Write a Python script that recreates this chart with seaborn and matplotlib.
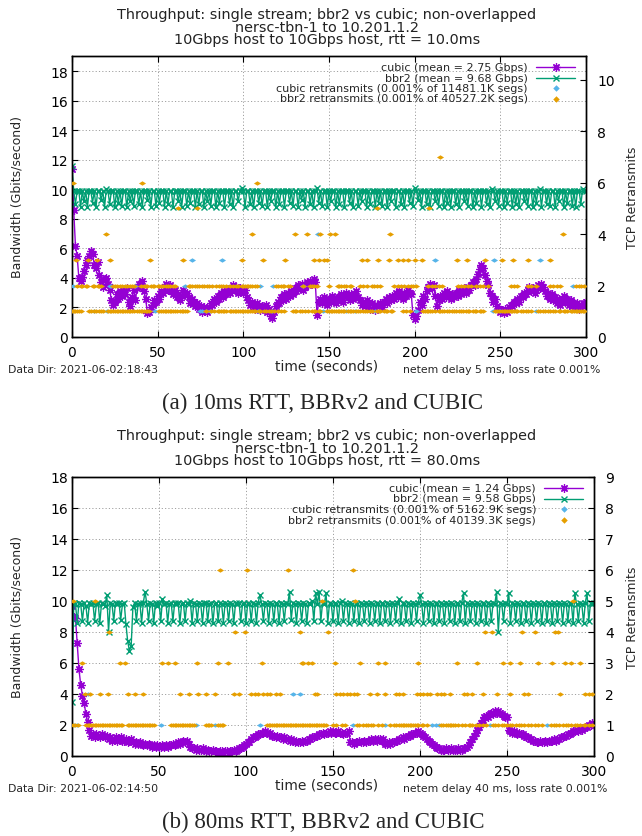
import numpy as np
import pandas as pd
import matplotlib
matplotlib.use("Agg")
import matplotlib.pyplot as plt
from matplotlib.lines import Line2D
import seaborn as sns

sns.set_theme(style="white")
plt.rcParams["font.family"] = ["DejaVu Sans"]

# ---------------- data: panel (a) 10 ms RTT ----------------
a_cubic = [
    11.4, 8.6, 6.2, 5.5, 4.0, 3.8, 4.1, 4.5, 4.9, 5.2,
    5.5, 5.8, 5.6, 4.9, 4.7, 5.1, 4.2, 3.7, 3.4, 3.9,
    4.0, 3.6, 3.2, 2.5, 2.2, 2.4, 2.9, 2.6, 3.1, 2.8,
    3.2, 2.9, 3.3, 2.4, 2.1, 2.7, 3.2, 2.5, 3.3, 3.6,
    3.4, 3.8, 3.1, 2.6, 1.6, 1.7, 2.0, 2.2, 2.5, 2.4,
    2.8, 2.6, 3.1, 3.0, 3.4, 3.6, 3.2, 3.5, 3.1, 2.9,
    3.2, 2.7, 2.9, 2.5, 2.8, 3.2, 2.9, 3.0, 2.7, 2.3,
    2.6, 2.4, 2.1, 2.3, 1.9, 2.1, 1.7, 2.0, 1.8, 1.7,
    2.0, 2.3, 2.2, 2.6, 2.4, 2.8, 2.6, 3.0, 2.7, 3.1,
    2.9, 3.2, 3.0, 3.3, 3.5, 3.2, 3.4, 3.0, 3.3, 3.1,
    3.0, 3.2, 2.7, 2.5, 2.2, 2.4, 2.1, 1.9, 2.3, 2.0,
    1.8, 2.1, 1.9, 2.2, 1.7, 1.9, 1.4, 1.3, 1.7, 2.1,
    2.4, 2.3, 2.7, 2.5, 2.9, 2.6, 3.0, 2.8, 3.1, 2.9,
    3.3, 3.1, 3.5, 3.3, 3.6, 3.2, 3.4, 3.7, 3.5, 3.8,
    3.6, 3.9, 3.7, 1.5, 2.4, 2.6, 2.3, 2.7, 2.5, 2.2,
    2.6, 2.4, 2.8, 2.5, 2.3, 2.7, 2.6, 2.9, 2.4, 2.8,
    3.0, 2.7, 2.5, 2.9, 2.6, 2.8, 3.1, 2.7, 2.5, 2.2,
    2.4, 2.1, 2.5, 2.2, 1.9, 2.3, 2.0, 1.8, 2.2, 2.1,
    2.3, 2.0, 2.4, 2.6, 2.3, 2.7, 2.5, 2.8, 2.6, 3.0,
    2.7, 3.1, 2.8, 2.6, 3.0, 2.8, 3.2, 3.0, 2.9, 1.5,
    1.2, 1.4, 1.8, 2.4, 2.2, 2.8, 2.6, 3.1, 3.4, 3.6,
    3.3, 3.5, 2.8, 2.1, 2.5, 2.8, 2.6, 3.0, 2.7, 3.1,
    2.8, 2.6, 2.9, 2.7, 3.0, 2.8, 3.2, 2.9, 3.1, 3.3,
    3.0, 3.4, 3.2, 3.5, 3.7, 3.5, 3.9, 4.3, 4.6, 4.9,
    4.7, 4.2, 3.8, 3.5, 3.0, 2.8, 2.4, 2.6, 2.1, 1.9,
    1.7, 1.8, 1.6, 1.9, 1.7, 2.0, 2.2, 2.1, 2.4, 2.3,
    2.6, 2.4, 2.8, 2.7, 3.0, 2.9, 3.2, 3.4, 3.1, 3.3,
    3.0, 3.2, 3.5, 3.3, 3.6, 3.4, 3.1, 2.8, 3.0, 2.6,
    2.9, 2.5, 2.7, 2.3, 2.6, 2.2, 2.5, 2.8, 2.4, 2.6,
    2.2, 2.5, 2.1, 2.3, 2.0, 2.3, 1.9, 2.2, 2.1, 2.3,
    2.4,
]
a_bbr2 = [
    11.6, 9.9, 9.0, 9.9, 9.9, 8.8, 9.9, 9.2, 9.9, 8.8,
    9.9, 9.9, 9.1, 9.9, 8.8, 9.9, 9.9, 9.3, 9.9, 8.8,
    10.0, 9.9, 9.0, 9.9, 9.9, 8.8, 9.9, 9.1, 9.9, 8.9,
    9.9, 9.9, 8.8, 9.9, 9.2, 9.9, 8.9, 9.9, 9.9, 9.0,
    9.9, 8.8, 9.9, 9.9, 9.3, 9.9, 8.8, 9.9, 9.9, 8.9,
    9.9, 9.1, 9.9, 9.9, 8.8, 9.9, 9.0, 9.9, 9.9, 8.8,
    9.9, 9.9, 9.2, 9.9, 8.8, 9.9, 9.9, 8.9, 9.9, 9.1,
    9.9, 9.9, 8.8, 9.9, 9.0, 9.9, 9.9, 8.8, 9.9, 9.2,
    9.9, 8.9, 9.9, 9.9, 8.8, 9.9, 9.1, 9.9, 9.9, 8.8,
    9.9, 9.9, 9.0, 9.9, 8.8, 9.9, 9.9, 9.2, 9.9, 10.1,
    9.9, 8.8, 9.9, 9.9, 9.0, 9.9, 8.8, 9.9, 9.9, 9.1,
    9.9, 8.9, 9.9, 9.9, 8.8, 9.9, 9.2, 9.9, 9.9, 8.8,
    9.9, 9.0, 9.9, 9.9, 8.8, 9.9, 9.9, 9.1, 9.9, 8.9,
    9.9, 9.9, 8.8, 9.9, 9.3, 9.9, 8.8, 9.9, 9.9, 9.0,
    9.9, 8.8, 9.9, 10.1, 9.1, 9.9, 8.9, 9.9, 9.9, 8.8,
    9.9, 9.2, 9.9, 9.9, 8.8, 9.9, 9.0, 9.9, 9.9, 8.8,
    9.9, 9.9, 9.1, 9.9, 8.8, 9.9, 9.9, 8.9, 9.9, 9.2,
    9.9, 9.9, 8.8, 9.9, 9.0, 9.9, 9.9, 8.8, 9.9, 9.1,
    9.9, 8.9, 9.9, 9.9, 8.8, 9.9, 9.2, 9.9, 9.9, 8.8,
    9.9, 9.9, 9.0, 9.9, 8.8, 9.9, 9.9, 9.1, 9.9, 8.9,
    10.1, 9.9, 9.3, 9.9, 8.8, 9.9, 9.9, 9.0, 9.9, 8.8,
    9.9, 9.9, 9.2, 9.9, 8.9, 9.9, 9.9, 8.8, 9.9, 9.1,
    9.9, 8.8, 9.9, 9.9, 9.0, 9.9, 8.8, 9.9, 9.9, 9.2,
    9.9, 8.9, 9.9, 9.9, 8.8, 9.9, 9.1, 9.9, 9.9, 8.8,
    9.9, 9.9, 9.0, 9.9, 8.8, 10.0, 9.9, 9.2, 9.9, 8.9,
    9.9, 9.9, 8.8, 9.9, 9.1, 9.9, 9.9, 8.8, 9.9, 9.0,
    9.9, 8.8, 9.9, 9.9, 9.2, 9.9, 8.9, 9.9, 9.9, 8.8,
    9.9, 9.1, 9.9, 10.0, 8.8, 9.9, 9.9, 9.0, 9.9, 8.9,
    9.9, 9.9, 8.8, 9.9, 9.2, 9.9, 9.9, 8.8, 9.9, 9.1,
    9.9, 9.9, 8.9, 9.9, 8.8, 9.9, 9.9, 9.0, 10.0, 9.9,
    9.9,
]
# retransmit times (s) grouped by count
a_bbr2_r1 = [0, 1, 2, 3, 4, 5, 10, 11, 13, 14, 16, 17, 18, 21, 22, 23, 24, 25, 26, 27, 28, 29,
             30, 31, 32, 33, 34, 35, 36, 38, 39, 40, 41, 42, 43, 44, 45, 51, 52, 53, 54, 55, 56,
             57, 58, 59, 60, 61, 63, 64, 65, 66, 67, 78, 81, 83, 85, 86, 87, 88, 89, 90, 92, 93,
             94, 95, 96, 97, 98, 99, 100, 101, 102, 103, 104, 105, 106, 107, 109, 110, 112, 113,
             115, 116, 118, 120, 122, 124, 129, 130, 131, 133, 134, 136, 138, 140, 141, 142, 144,
             145, 149, 150, 151, 152, 153, 154, 155, 156, 157, 158, 159, 161, 162, 163, 164, 166,
             167, 168, 170, 171, 172, 174, 175, 178, 179, 180, 182, 183, 184, 186, 187, 193, 195,
             197, 205, 206, 207, 208, 209, 210, 212, 214, 215, 216, 217, 219, 220, 222, 223, 224,
             226, 227, 228, 230, 231, 232, 234, 235, 236, 238, 239, 240, 247, 248, 249, 251, 252,
             253, 254, 255, 256, 257, 258, 259, 260, 262, 263, 265, 266, 268, 272, 273, 275, 276,
             278, 279, 281, 282, 284, 285, 287, 288, 289, 291, 292, 293, 294, 295, 296, 297, 298, 299]
a_bbr2_r2 = [3, 5, 6, 8, 9, 12, 13, 15, 16, 17, 24, 25, 26, 28, 29, 31, 32, 34, 35, 36, 40, 42,
             43, 44, 46, 47, 48, 50, 51, 52, 53, 55, 56, 57, 59, 60, 68, 69, 70, 72, 73, 74, 76,
             77, 79, 80, 82, 84, 86, 87, 88, 90, 92, 94, 96, 97, 99, 100, 101, 102, 103, 104, 105,
             107, 108, 119, 120, 122, 123, 124, 126, 127, 135, 139, 140, 141, 143, 150, 155, 156,
             157, 159, 160, 162, 163, 168, 170, 172, 175, 176, 178, 180, 188, 190, 192, 194, 196,
             198, 199, 201, 208, 210, 212, 214, 216, 225, 227, 229, 231, 233, 236, 238, 240, 243,
             256, 258, 260, 266, 268, 271, 279, 281, 283, 285, 294, 296, 297, 299]
a_bbr2_r3 = [2.6, 9.5, 14.3, 22.2, 45.5, 65, 99, 111.7, 124.3, 141, 144, 147, 149, 169, 172,
             178.6, 185, 190, 193, 196, 200, 204, 224.5, 230.4, 241, 251, 257.6, 266.4, 279]
a_bbr2_r4 = [20, 105, 130, 137, 145, 150.6, 153.5, 185.6, 286.8]
a_bbr2_r5 = [62, 72.8, 178, 208.6]
a_bbr2_r6 = [0.8, 40.7, 107.8]
a_bbr2_r7 = [214.8]
a_cubic_r1 = [12.6, 20.5, 48.5, 74.7, 76, 78, 80.6, 108.6, 117, 146.6, 160, 165, 177, 201,
              246, 250, 271]
a_cubic_r2 = [0.8, 22, 23, 37, 66, 110, 117.5, 135, 292.5]
a_cubic_r3 = [70, 87.4, 212, 246.5, 273]
a_cubic_r4 = [143.6]

# ---------------- data: panel (b) 80 ms RTT ----------------
b_cubic = [
    9.7, 9.0, 8.9, 7.3, 5.6, 4.6, 3.9, 3.4, 2.7, 2.2,
    1.7, 1.3, 1.4, 1.2, 1.4, 1.3, 1.2, 1.4, 1.3, 1.2,
    1.3, 1.1, 1.2, 1.0, 1.1, 1.2, 1.0, 1.1, 1.2, 1.0,
    1.0, 1.1, 0.9, 1.0, 1.1, 0.9, 0.8, 0.9, 0.8, 0.9,
    0.8, 0.7, 0.8, 0.7, 0.8, 0.7, 0.6, 0.7, 0.6, 0.7,
    0.6, 0.6, 0.7, 0.6, 0.7, 0.6, 0.7, 0.7, 0.8, 0.7,
    0.8, 0.9, 0.8, 0.9, 1.0, 0.9, 1.0, 0.8, 0.6, 0.5,
    0.5, 0.4, 0.5, 0.4, 0.4, 0.5, 0.4, 0.3, 0.4, 0.3,
    0.3, 0.4, 0.3, 0.3, 0.2, 0.3, 0.3, 0.2, 0.3, 0.3,
    0.2, 0.3, 0.3, 0.4, 0.3, 0.4, 0.5, 0.5, 0.6, 0.7,
    0.8, 0.9, 0.9, 1.1, 1.2, 1.2, 1.3, 1.4, 1.4, 1.5,
    1.5, 1.6, 1.5, 1.4, 1.5, 1.3, 1.3, 1.2, 1.3, 1.2,
    1.2, 1.1, 1.2, 1.1, 1.1, 1.0, 1.1, 1.0, 0.9, 1.0,
    0.9, 0.9, 1.0, 0.9, 1.0, 1.0, 1.1, 1.1, 1.2, 1.2,
    1.3, 1.3, 1.4, 1.4, 1.5, 1.4, 1.5, 1.5, 1.6, 1.5,
    1.6, 1.5, 1.5, 1.6, 1.5, 1.5, 1.4, 1.5, 1.5, 1.6,
    0.9, 0.9, 0.8, 0.9, 0.9, 1.0, 0.9, 0.9, 1.0, 0.9,
    1.0, 1.0, 1.1, 1.0, 1.1, 1.0, 1.1, 1.1, 1.0, 1.1,
    0.8, 0.8, 0.9, 0.8, 0.9, 0.9, 1.0, 1.0, 1.1, 1.1,
    1.2, 1.1, 1.2, 1.3, 1.3, 1.4, 1.4, 1.5, 1.5, 1.6,
    1.5, 1.4, 1.3, 1.2, 1.1, 1.0, 0.9, 0.8, 0.7, 0.6,
    0.5, 0.5, 0.4, 0.4, 0.4, 0.5, 0.4, 0.4, 0.5, 0.4,
    0.4, 0.4, 0.5, 0.4, 0.4, 0.5, 0.5, 0.6, 0.7, 0.9,
    1.1, 1.3, 1.5, 1.7, 1.9, 2.1, 2.3, 2.5, 2.6, 2.5,
    2.7, 2.8, 2.7, 2.9, 2.8, 2.9, 2.8, 2.7, 2.6, 2.5,
    2.5, 1.7, 1.6, 1.5, 1.6, 1.5, 1.4, 1.5, 1.4, 1.4,
    1.3, 1.2, 1.2, 1.1, 1.1, 1.0, 1.0, 0.9, 0.9, 1.0,
    0.9, 0.9, 1.0, 0.9, 1.0, 1.0, 1.0, 1.1, 1.0, 1.1,
    1.1, 1.2, 1.2, 1.3, 1.3, 1.4, 1.4, 1.5, 1.6, 1.6,
    1.7, 1.6, 1.8, 1.7, 1.8, 1.9, 1.9, 2.0, 2.0, 2.1,
    2.0,
]
b_bbr2 = [
    3.5, 9.9, 9.8, 8.6, 9.9, 9.8, 8.7, 9.9, 9.7, 8.6,
    9.9, 9.8, 9.9, 8.7, 9.8, 9.9, 8.6, 9.9, 9.8, 9.7,
    10.4, 8.0, 9.9, 9.8, 8.7, 9.9, 9.8, 9.9, 8.8, 9.8,
    9.9, 8.5, 7.4, 6.8, 7.1, 9.6, 9.9, 8.7, 9.8, 9.9,
    8.6, 9.9, 10.6, 9.8, 8.7, 9.9, 9.8, 8.6, 9.9, 9.7,
    9.9, 8.7, 10.1, 9.8, 9.9, 8.6, 9.8, 9.9, 8.7, 9.9,
    9.8, 9.9, 8.6, 9.8, 9.9, 8.7, 9.9, 9.8, 10.0, 8.6,
    9.9, 9.8, 8.7, 9.9, 9.8, 8.6, 9.9, 9.9, 8.7, 9.8,
    9.9, 8.6, 9.8, 9.9, 8.7, 9.9, 9.8, 8.6, 9.9, 9.8,
    8.7, 9.9, 9.8, 8.6, 9.9, 9.8, 9.9, 8.7, 9.8, 9.9,
    8.6, 9.9, 9.8, 8.7, 9.9, 9.8, 8.6, 9.9, 10.4, 9.8,
    8.7, 9.9, 9.8, 8.6, 9.9, 9.8, 8.7, 9.9, 9.8, 8.6,
    9.9, 9.8, 8.7, 9.9, 9.8, 10.6, 8.8, 9.9, 9.8, 8.6,
    9.9, 9.8, 8.7, 9.9, 9.8, 8.6, 9.9, 9.8, 10.0, 8.7,
    10.5, 9.8, 10.6, 8.7, 9.9, 9.8, 10.5, 8.6, 9.9, 9.8,
    8.7, 9.9, 9.8, 8.6, 9.9, 10.0, 8.7, 9.9, 9.8, 8.6,
    9.9, 9.8, 8.7, 9.9, 9.8, 8.6, 9.9, 9.8, 8.7, 9.9,
    9.8, 8.6, 9.9, 9.8, 8.7, 9.9, 9.8, 8.6, 9.9, 9.8,
    8.7, 9.9, 9.8, 8.6, 9.9, 9.8, 8.7, 9.9, 10.1, 8.6,
    9.9, 9.8, 8.7, 9.9, 9.8, 8.6, 9.9, 9.8, 8.7, 9.9,
    10.4, 9.8, 8.6, 9.9, 9.8, 8.7, 9.9, 9.8, 8.6, 9.9,
    9.8, 8.7, 9.9, 9.8, 8.6, 9.9, 9.8, 8.7, 9.9, 9.8,
    8.6, 9.9, 9.8, 8.7, 9.9, 10.5, 8.6, 9.9, 9.8, 8.7,
    9.9, 9.8, 8.6, 9.9, 9.8, 8.7, 9.9, 9.8, 8.6, 9.9,
    9.8, 8.7, 9.9, 9.8, 10.6, 8.0, 9.9, 9.8, 8.7, 9.9,
    9.8, 10.5, 8.6, 9.9, 9.8, 8.7, 9.9, 9.8, 8.6, 9.9,
    9.8, 8.7, 9.9, 9.8, 8.6, 9.9, 9.8, 8.7, 9.9, 9.8,
    8.6, 9.9, 9.8, 8.7, 9.9, 9.8, 8.6, 9.9, 9.8, 8.7,
    9.9, 9.8, 8.6, 9.9, 9.8, 8.7, 9.9, 9.8, 8.6, 10.5,
    9.8, 8.7, 9.9, 9.8, 8.6, 9.9, 10.5, 8.7, 9.9, 9.8,
    9.9,
]
b_bbr2_r1 = [0.8, 2, 3.5, 8, 9, 10, 11, 12, 13, 14, 15, 16, 17, 18, 19, 20, 21, 22, 23, 24, 25,
             26, 27, 28, 29, 32, 33, 34, 35, 36, 37, 38, 39, 40, 41, 42, 43, 44, 45, 46, 47, 57,
             58, 59, 60, 61, 62, 63, 64, 65, 66, 67, 68, 69, 70, 77, 78, 79, 80, 84, 85, 86, 87,
             112, 113, 114, 115, 116, 117, 118, 119, 120, 121, 122, 123, 124, 125, 126, 127, 128,
             129, 130, 131, 132, 133, 134, 135, 136, 137, 138, 139, 140, 141, 142, 143, 144, 145,
             146, 150, 152, 155, 157, 164, 165, 167, 169, 170, 172, 173, 176, 178, 183, 185, 186,
             188, 189, 190, 191, 192, 193, 194, 195, 196, 197, 198, 199, 201, 202, 204, 212, 213,
             215, 216, 217, 218, 219, 220, 222, 224, 226, 228, 229, 230, 232, 234, 236, 238, 242,
             243, 245, 247, 248, 250, 252, 253, 255, 257, 258, 260, 262, 264, 266, 268, 270, 275,
             277, 278, 280, 282, 284, 285, 287, 289, 290, 292, 294, 295, 297, 299]
b_bbr2_r2 = [7.5, 10.3, 16, 20.7, 32, 36, 41, 62, 67, 72.6, 77, 82, 93, 96, 103, 105, 107, 110,
             112, 114, 117, 119.5, 139.7, 140.6, 152, 154, 156, 158, 160, 162, 164, 171, 175, 180,
             186, 188, 190, 198, 200, 202, 204, 206, 210, 212, 214, 217, 225, 227, 230, 236, 244,
             252, 260, 262, 280.5, 295, 297, 299]
b_bbr2_r3 = [5.6, 27.6, 30.5, 51.5, 55, 59.2, 71.6, 84, 89.8, 109, 132, 133, 135.8, 137.7, 151,
             165.5, 176, 180, 199, 221, 232.6, 247.8, 252, 257.5, 268, 275.7, 283.3, 287, 292]
b_bbr2_r4 = [21.4, 93.7, 99.4, 131, 147.3, 237.4, 241.2, 258.4, 266, 277.6, 279.5]
b_bbr2_r5 = [0.8, 13.2, 143.5, 162.6, 288]
b_bbr2_r6 = [85, 100.4, 124.3, 161.7]
b_cubic_r1 = [1, 3, 51, 71, 82, 108, 161.7, 180, 207, 209, 211, 240, 272.8]
b_cubic_r2 = [9, 127, 131]

a_labels = ["cubic (mean = 2.75 Gbps)", "bbr2 (mean = 9.68 Gbps)",
            "cubic retransmits (0.001% of 11481.1K segs)",
            "bbr2 retransmits (0.001% of 40527.2K segs)"]
b_labels = ["cubic (mean = 1.24 Gbps)", "bbr2 (mean = 9.58 Gbps)",
            "cubic retransmits (0.001% of 5162.9K segs)",
            "bbr2 retransmits (0.001% of 40139.3K segs)"]
title_common = ["Throughput: single stream; bbr2 vs cubic; non-overlapped",
                "nersc-tbn-1 to 10.201.1.2"]
a_title3 = "10Gbps host to 10Gbps host, rtt = 10.0ms"
b_title3 = "10Gbps host to 10Gbps host, rtt = 80.0ms"
a_datadir = "Data Dir: 2021-06-02:18:43"
b_datadir = "Data Dir: 2021-06-02:14:50"
a_netem = "netem delay 5 ms, loss rate 0.001%"
b_netem = "netem delay 40 ms, loss rate 0.001%"
a_caption = "(a) 10ms RTT, BBRv2 and CUBIC"
b_caption = "(b) 80ms RTT, BBRv2 and CUBIC"
x_ticks = [0, 50, 100, 150, 200, 250, 300]

PURPLE = "#9400d3"
GREEN = "#009e73"
BLUE = "#56b4e9"
ORANGE = "#e69f00"
GRIDC = "#a0a0a0"
DIAMOND = [(-1, 0), (0, 0.62), (1, 0), (0, -0.62), (-1, 0)]

W, H = 642, 837
fig = plt.figure(figsize=(W / 100, H / 100), dpi=100)


def fx(x):
    return x / W


def fy(y):
    return 1 - y / H


def retx_frame(groups):
    rows = []
    for n, times in groups:
        for t in times:
            rows.append((t, n))
    return pd.DataFrame(rows, columns=["t", "n"])


def panel(box, cubic, bbr2, bbr2_groups, cubic_groups, ylim, y2lim, y2step,
          labels, title3, datadir, netem, caption):
    left, top, right, bottom = box
    ax = fig.add_axes([fx(left), fy(bottom), fx(right - left), (bottom - top) / H])
    t_c = np.arange(len(cubic))
    t_b = np.arange(len(bbr2))
    sns.lineplot(x=t_c, y=cubic, ax=ax, color=PURPLE, linewidth=1.0,
                 marker=(8, 2, 0), markersize=6, markeredgecolor=PURPLE,
                 markeredgewidth=0.9, estimator=None, sort=False)
    sns.lineplot(x=t_b, y=bbr2, ax=ax, color=GREEN, linewidth=1.0,
                 marker="x", markersize=5, markeredgecolor=GREEN,
                 markeredgewidth=1.0, estimator=None, sort=False)
    ax.set_xlim(0, 300)
    ax.set_ylim(*ylim)
    ax.set_xticks(x_ticks)
    ax.set_yticks(np.arange(0, 19, 2))
    ax.grid(True, linestyle=(0, (1.2, 2.2)), color=GRIDC, linewidth=0.7)
    ax.tick_params(axis="both", direction="in", length=4, width=0.8,
                   labelsize=10, colors="black", pad=3)
    ax.tick_params(axis="x", top=True, bottom=True, pad=5.5)
    ax.tick_params(axis="y", left=True, right=False)
    for s in ax.spines.values():
        s.set_color("black")
        s.set_linewidth(1.0)
    ax.set_xlabel("")
    ax.set_ylabel("")

    ax2 = ax.twinx()
    dfc = retx_frame(cubic_groups)
    dfb = retx_frame(bbr2_groups)
    sns.scatterplot(data=dfc, x="t", y="n", ax=ax2, color=BLUE, marker=DIAMOND,
                    s=26, linewidth=0, edgecolor=BLUE, zorder=3)
    sns.scatterplot(data=dfb, x="t", y="n", ax=ax2, color=ORANGE, marker=DIAMOND,
                    s=26, linewidth=0, edgecolor=ORANGE, zorder=4)
    ax2.set_ylim(*y2lim)
    ax2.set_yticks(np.arange(0, int(y2lim[1]) + 1, y2step))
    ax2.set_xlim(0, 300)
    ax2.grid(False)
    ax2.tick_params(axis="y", direction="in", length=4, width=0.8, labelsize=10,
                    right=True, colors="black", pad=8)
    ax2.set_xlabel("")
    ax2.set_ylabel("")
    for s in ax2.spines.values():
        s.set_color("black")
        s.set_linewidth(1.0)

    # titles
    for i, s in enumerate(title_common + [title3]):
        fig.text(fx(327), fy(top - 42 + i * 12.6), s, ha="center", va="center",
                 fontsize=10.4, color="#222222")
    # axis labels
    fig.text(fx(17), fy((top + bottom) / 2), "Bandwidth (Gbits/second)", rotation=90,
             ha="center", va="center", fontsize=9)
    fig.text(fx(632), fy((top + bottom) / 2), "TCP Retransmits", rotation=90,
             ha="center", va="center", fontsize=9)
    fig.text(fx(327), fy(bottom + 29), "time (seconds)", ha="center", va="center",
             fontsize=10)
    fig.text(fx(8), fy(bottom + 32), datadir, ha="left", va="center", fontsize=7.8)
    fig.text(fx(403), fy(bottom + 32), netem, ha="left", va="center", fontsize=7.8)
    fig.text(fx(323), fy(bottom + 65), caption, ha="center", va="center",
             fontsize=16.5, family=["Liberation Serif", "DejaVu Serif"])

    # key (gnuplot style: right-aligned text, sample on the right)
    styles = [dict(color=PURPLE, marker=(8, 2, 0), ms=6, lw=1.0, mew=0.9),
              dict(color=GREEN, marker="x", ms=5, lw=1.0, mew=1.0),
              dict(color=BLUE, marker="D", ms=3.3, lw=0, mew=0),
              dict(color=ORANGE, marker="D", ms=3.3, lw=0, mew=0)]
    for i, (lab, st) in enumerate(zip(labels, styles)):
        yy = top + 11 + i * 10.5
        fig.text(fx(right - 58), fy(yy), lab, ha="right", va="center", fontsize=8)
        if st["lw"] > 0:
            fig.add_artist(Line2D([fx(right - 50), fx(right - 11)], [fy(yy), fy(yy)],
                                  color=st["color"], lw=st["lw"]))
        fig.add_artist(Line2D([fx(right - 30.5)], [fy(yy)], color=st["color"],
                              marker=st["marker"], ms=st["ms"], mew=st["mew"],
                              mec=st["color"], mfc=st["color"], lw=0))
    return ax, ax2


panel((72, 57, 586, 338), a_cubic, a_bbr2,
      [(1, a_bbr2_r1), (2, a_bbr2_r2), (3, a_bbr2_r3), (4, a_bbr2_r4), (5, a_bbr2_r5),
       (6, a_bbr2_r6), (7, a_bbr2_r7)],
      [(1, a_cubic_r1), (2, a_cubic_r2), (3, a_cubic_r3), (4, a_cubic_r4)],
      (0, 19.05), (0, 10.92), 2, a_labels, a_title3, a_datadir, a_netem, a_caption)

panel((72, 478, 594, 757), b_cubic, b_bbr2,
      [(1, b_bbr2_r1), (2, b_bbr2_r2), (3, b_bbr2_r3), (4, b_bbr2_r4), (5, b_bbr2_r5),
       (6, b_bbr2_r6)],
      [(1, b_cubic_r1), (2, b_cubic_r2)],
      (0, 18), (0, 9), 1, b_labels, b_title3, b_datadir, b_netem, b_caption)

fig.savefig("out.png", dpi=100, facecolor="white")
